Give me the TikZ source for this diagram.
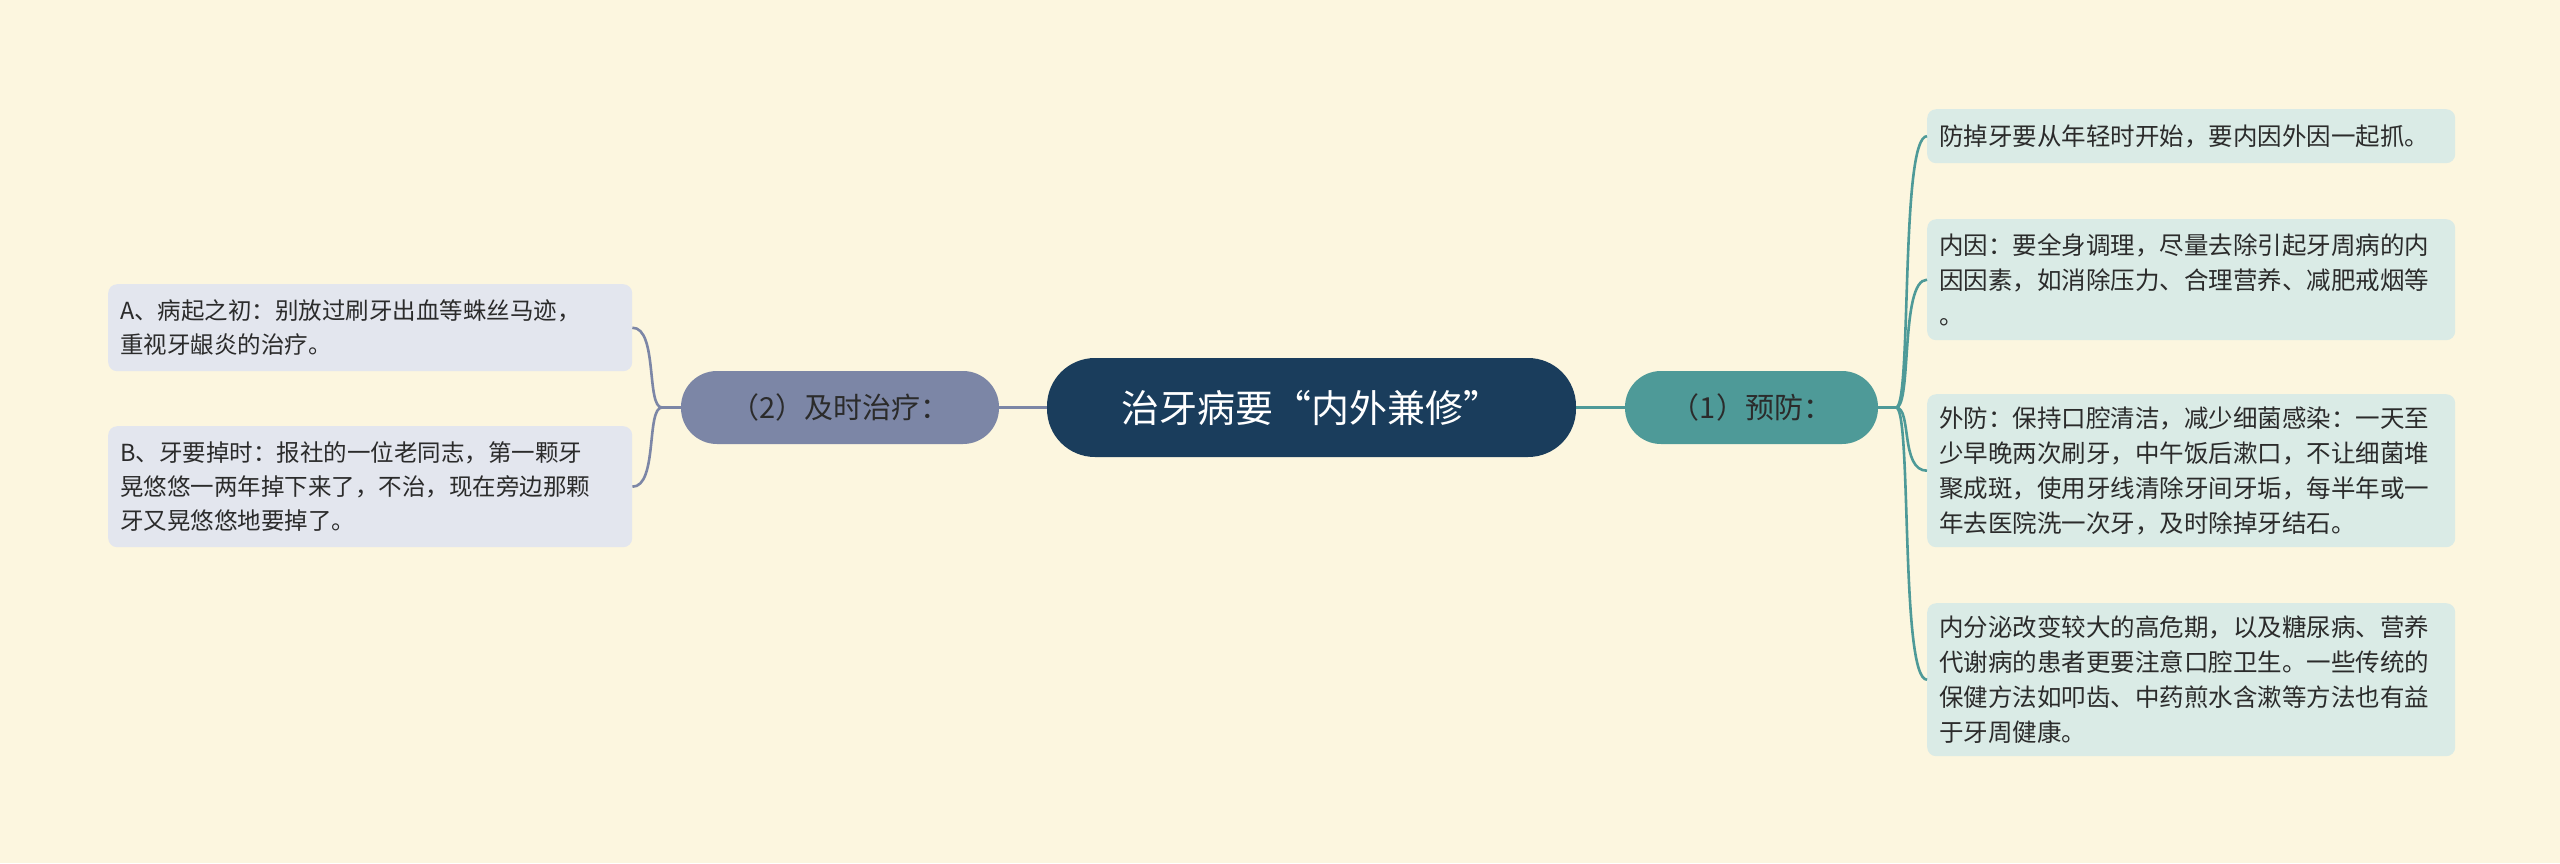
\documentclass[tikz,border=0pt]{standalone}
\usepackage{fontspec}
\setmainfont{Noto Sans CJK SC}
\begin{document}
\begin{tikzpicture}[x=1pt,y=-1pt,
  leafr/.style={fill=leafR, rounded corners=9pt, anchor=north west, align=left, inner xsep=12pt, inner ysep=0pt, text width=504pt, font=\fontsize{24.5}{35}\selectfont, text=txt},
  leafl/.style={fill=leafL, rounded corners=9pt, anchor=north west, align=left, inner xsep=12pt, inner ysep=0pt, text width=500pt, font=\fontsize{23.5}{34}\selectfont, text=txt},
  linkr/.style={draw=tealc, line width=2.6pt},
  linkl/.style={draw=greyc, line width=2.6pt}]
\definecolor{bg}{HTML}{FCF6DF}
\definecolor{leafR}{HTML}{DAEBE6}
\definecolor{leafL}{HTML}{E3E6EE}
\definecolor{tealc}{HTML}{4E9A98}
\definecolor{greyc}{HTML}{7C86A6}
\definecolor{navy}{HTML}{1A3D5C}
\definecolor{txt}{HTML}{2B2B2B}
\fill[bg] (0,0) rectangle (2560,863);
\useasboundingbox (0,0) rectangle (2560,863);
% center
\node[fill=navy, text=white, rounded corners=48pt, minimum width=529pt, minimum height=99pt, font=\fontsize{38}{40}\selectfont] (c) at (1311.5,407.5) {治牙病要“内外兼修”};
\node[fill=tealc, text=txt, rounded corners=36pt, minimum width=253pt, minimum height=73pt, font=\fontsize{29}{32}\selectfont] (p1) at (1751.5,407.5) {（1）预防：};
\node[fill=greyc, text=txt, rounded corners=36pt, minimum width=318pt, minimum height=73pt, font=\fontsize{29}{32}\selectfont] (p2) at (840,407.5) {（2）及时治疗：};
% right leaves
\node[leafr, minimum height=54pt] (r1) at (1927,109) {防掉牙要从年轻时开始，要内因外因一起抓。};
\node[leafr, minimum height=121pt] (r2) at (1927,219) {内因：要全身调理，尽量去除引起牙周病的内\\因因素，如消除压力、合理营养、减肥戒烟等\\。};
\node[leafr, minimum height=153pt] (r3) at (1927,394) {外防：保持口腔清洁，减少细菌感染：一天至\\少早晚两次刷牙，中午饭后漱口，不让细菌堆\\聚成斑，使用牙线清除牙间牙垢，每半年或一\\年去医院洗一次牙，及时除掉牙结石。};
\node[leafr, minimum height=153pt] (r4) at (1927,603) {内分泌改变较大的高危期，以及糖尿病、营养\\代谢病的患者更要注意口腔卫生。一些传统的\\保健方法如叩齿、中药煎水含漱等方法也有益\\于牙周健康。};
% left leaves
\node[leafl, minimum height=87pt] (l1) at (108,284) {A、病起之初：别放过刷牙出血等蛛丝马迹，\\重视牙龈炎的治疗。};
\node[leafl, minimum height=121pt] (l2) at (108,426) {B、牙要掉时：报社的一位老同志，第一颗牙\\晃悠悠一两年掉下来了，不治，现在旁边那颗\\牙又晃悠悠地要掉了。};
% links
\draw[linkr] (c.east) -- (p1.west);
\draw[linkl] (c.west) -- (p2.west -| p2.east);
\coordinate (jr) at (1896,407.5);
\draw[linkr] (p1.east) -- (jr);
\foreach \n in {r1,r2,r3,r4}
  \draw[linkr] (jr) .. controls (1912,407.5) and (1900,0|-\n.west) .. (\n.west);
\coordinate (jl) at (662,407.5);
\draw[linkl] (p2.west) -- (jl);
\foreach \n in {l1,l2}
  \draw[linkl] (jl) .. controls (646,407.5) and (658,0|-\n.east) .. (\n.east);
\end{tikzpicture}
\end{document}
